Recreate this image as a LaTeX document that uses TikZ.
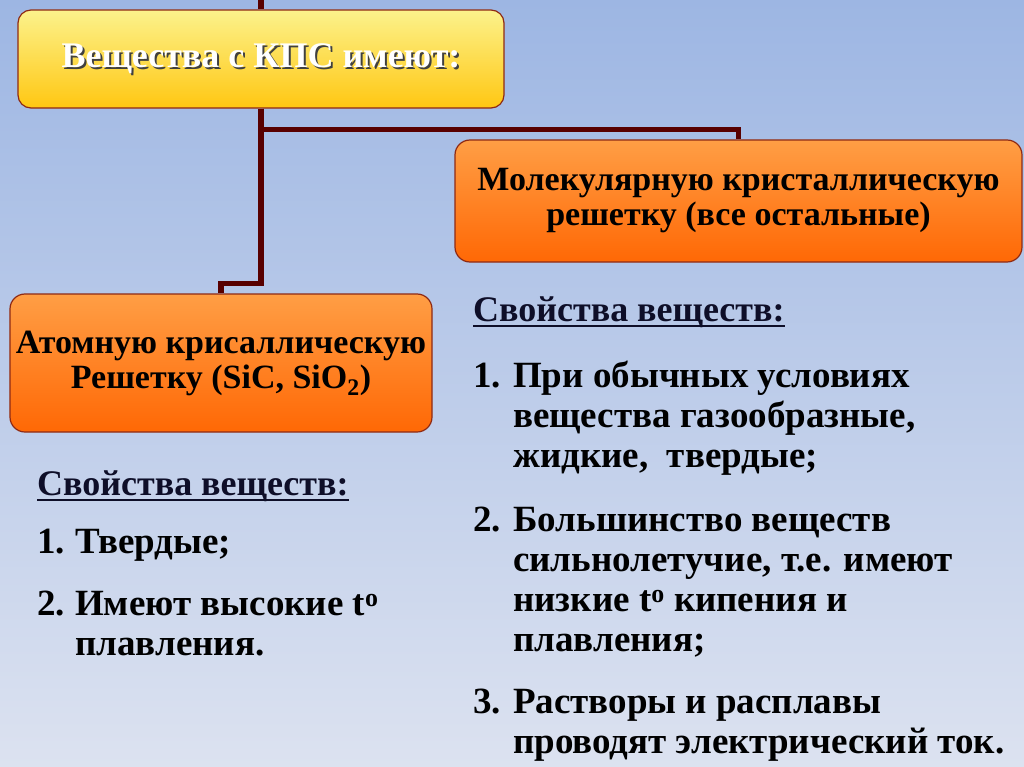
\documentclass[tikz,border=0pt]{standalone}
\usepackage{fontspec}
\setmainfont{Liberation Serif}
\usetikzlibrary{positioning}
\definecolor{bgtop}{HTML}{9DB6E3}
\definecolor{bgbot}{HTML}{DCE2F0}
\definecolor{ytop}{HTML}{FCF28C}
\definecolor{ybot}{HTML}{FFC712}
\definecolor{otop}{HTML}{FF9E45}
\definecolor{obot}{HTML}{FF6805}
\definecolor{boxedge}{HTML}{8E2A14}
\definecolor{linkred}{HTML}{580000}
\definecolor{headcol}{HTML}{0E0E28}
\begin{document}
\begin{tikzpicture}[x=1bp,y=-1bp,
  link/.style={line width=5.5bp,draw=linkred,line join=miter},
  yellowbox/.style={rounded corners=13bp,draw=boxedge,line width=1.2bp,
    top color=ytop,bottom color=ybot,minimum width=486bp,minimum height=98bp,inner sep=0pt},
  orangebox/.style={rounded corners=15bp,draw=boxedge,line width=1.2bp,
    top color=otop,bottom color=obot,inner sep=0pt,align=center,
    font=\fontsize{34bp}{35bp}\selectfont\bfseries},
  titletext/.style={font=\fontsize{36bp}{38bp}\selectfont\bfseries,inner sep=0pt},
  listtext/.style={font=\fontsize{37bp}{40bp}\selectfont\bfseries,inner sep=0pt,
    anchor=base west,align=left},
  headtext/.style={listtext,font=\fontsize{36bp}{40bp}\selectfont\bfseries,text=headcol},
  headline/.style={line width=2.5bp,draw=headcol}]
  \fill[top color=bgtop,bottom color=bgbot] (0,0) rectangle (1024,767);
  \useasboundingbox (0,0) rectangle (1024,767);

  \coordinate (parent) at (261,0);
  \node[yellowbox] (kps) at (261,59) {};
  \node[orangebox,minimum width=567bp,minimum height=122bp] (mol) at (738.5,201)
    {Молекулярную кристаллическую\\решетку (все остальные)};
  \node[orangebox,minimum width=422bp,minimum height=138bp] (atom) at (221,363)
    {Атомную крисаллическую\\Решетку (SiC, SiO\textsubscript{2})};

  \draw[link] (parent) -- (kps.north);
  \draw[link] (kps.south) -- ++(0,21) -| (mol.north);
  \draw[link] (kps.south) -- ++(0,175) -| (atom.north);

  \node[titletext,text=black!75] (kpsshade) at ([shift={(2,2)}]kps.center) {Вещества с КПС имеют:};
  \node[titletext,text=white] (kpstext) at (kps.center) {Вещества с КПС имеют:};

  \node[headtext] (lhead) at (37,495) {Свойства веществ:};
  \draw[headline] ([yshift=-5bp]lhead.base west) -- ([yshift=-5bp]lhead.base east);
  \node[listtext] (lnum1) at (37,553) {1.};
  \node[listtext] (litem1) at (75,553) {Твердые;};
  \node[listtext] (lnum2) at (37,615) {2.};
  \node[listtext] (litem2) at (75,655) {Имеют высокие t\textsuperscript{o}\\плавления.};

  \node[headtext] (rhead) at (473,321) {Свойства веществ:};
  \draw[headline] ([yshift=-5bp]rhead.base west) -- ([yshift=-5bp]rhead.base east);
  \node[listtext] (rnum1) at (473,387) {1.};
  \node[listtext] (ritem1) at (513,467) {При обычных условиях\\вещества газообразные,\\жидкие,~ твердые;};
  \node[listtext] (rnum2) at (473,531) {2.};
  \node[listtext] (ritem2) at (513,651) {Большинство веществ\\сильнолетучие, т.е. имеют\\низкие t\textsuperscript{o} кипения и\\плавления;};
  \node[listtext] (rnum3) at (473,713) {3.};
  \node[listtext] (ritem3) at (513,753) {Растворы и расплавы\\проводят электрический ток.};
\end{tikzpicture}
\end{document}
